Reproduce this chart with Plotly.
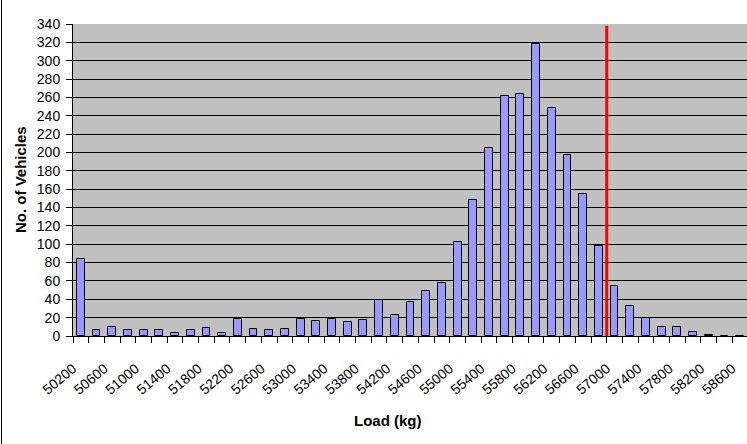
import plotly.graph_objects as go

# Load categories (kg)
loads = [50200, 50400, 50600, 50800, 51000, 51200, 51400, 51600, 51800, 52000,
         52200, 52400, 52600, 52800, 53000, 53200, 53400, 53600, 53800, 54000,
         54200, 54400, 54600, 54800, 55000, 55200, 55400, 55600, 55800, 56000,
         56200, 56400, 56600, 56800, 57000, 57200, 57400, 57600, 57800, 58000,
         58200, 58400, 58600]
# Number of vehicles per load bin
vehicles = [84, 7, 10, 7, 6, 7, 3, 7, 9, 3,
            18, 8, 6, 8, 18, 16, 18, 15, 17, 39,
            23, 37, 49, 58, 102, 148, 205, 262, 264, 318,
            249, 197, 155, 98, 55, 33, 20, 10, 10, 4,
            1, 0, 0]
# Tick labels shown on the category axis (every other bin)
tick_labels = ["50200", "", "50600", "", "51000", "", "51400", "", "51800", "",
               "52200", "", "52600", "", "53000", "", "53400", "", "53800", "",
               "54200", "", "54600", "", "55000", "", "55400", "", "55800", "",
               "56200", "", "56600", "", "57000", "", "57400", "", "57800", "",
               "58200", "", "58600"]
y_ticks = [0, 20, 40, 60, 80, 100, 120, 140, 160, 180, 200, 220, 240, 260, 280, 300, 320, 340]
# Limit marker
limit_x = [56900, 56900]
limit_y = [0, 338]

FONT = "Liberation Sans, Arial, sans-serif"
W, H = 747, 444
ML, MR, MT, MB = 73, 0, 24, 108
bin_w = 200
plot_w = W - ML - MR
plot_h = H - MT - MB
x_lo = loads[0] - bin_w / 2
x_hi = x_lo + len(loads) * bin_w * plot_w / 675.0

fig = go.Figure()
fig.add_trace(go.Bar(
    x=loads, y=vehicles, width=bin_w * 0.5,
    marker=dict(color="#9999FF", line=dict(color="black", width=1)),
    showlegend=False, hoverinfo="x+y",
))
fig.add_trace(go.Scatter(
    x=limit_x, y=limit_y, mode="lines",
    line=dict(color="#FF0000", width=3), showlegend=False, hoverinfo="skip",
))

fig.update_layout(
    width=W, height=H,
    margin=dict(l=ML, r=MR, t=MT, b=MB),
    paper_bgcolor="white", plot_bgcolor="#C0C0C0",
    font=dict(family=FONT, color="black", size=14),
    bargap=0,
)
fig.update_xaxes(
    range=[x_lo, x_hi],
    tickmode="array",
    tickvals=[v - bin_w / 2 for v in loads],
    ticktext=tick_labels,
    tickangle=-40,
    ticks="outside", ticklen=6, tickcolor="black", tickwidth=1,
    ticklabelstandoff=12,
    showline=True, linecolor="black", linewidth=1,
    showgrid=False, zeroline=False,
    tickfont=dict(size=14, family=FONT, color="black"),
)
fig.update_yaxes(
    range=[0, 340],
    tickmode="array", tickvals=y_ticks,
    ticks="outside", ticklen=6, tickcolor="black", tickwidth=1,
    ticklabelstandoff=3,
    showline=True, linecolor="black", linewidth=1,
    showgrid=True, gridcolor="black", gridwidth=1,
    zeroline=False,
    tickfont=dict(size=14, family=FONT, color="black"),
)

# Axis titles
fig.add_annotation(
    text="<b>No. of Vehicles</b>", textangle=-90,
    xref="paper", yref="paper",
    x=(20 - ML) / plot_w, y=0.5, xanchor="center", yanchor="middle",
    showarrow=False, font=dict(size=15, family=FONT, color="black"),
)
fig.add_annotation(
    text="<b>Load (kg)</b>",
    xref="paper", yref="paper",
    x=(388 - ML) / plot_w, y=-(420 - (H - MB)) / plot_h,
    xanchor="center", yanchor="middle",
    showarrow=False, font=dict(size=15, family=FONT, color="black"),
)
# Chart-area border (left edge visible)
fig.add_shape(
    type="line", xref="paper", yref="paper",
    x0=(1.5 - ML) / plot_w, x1=(1.5 - ML) / plot_w,
    y0=-MB / plot_h, y1=1 + MT / plot_h,
    line=dict(color="black", width=1),
)

fig.write_html("out.html")
